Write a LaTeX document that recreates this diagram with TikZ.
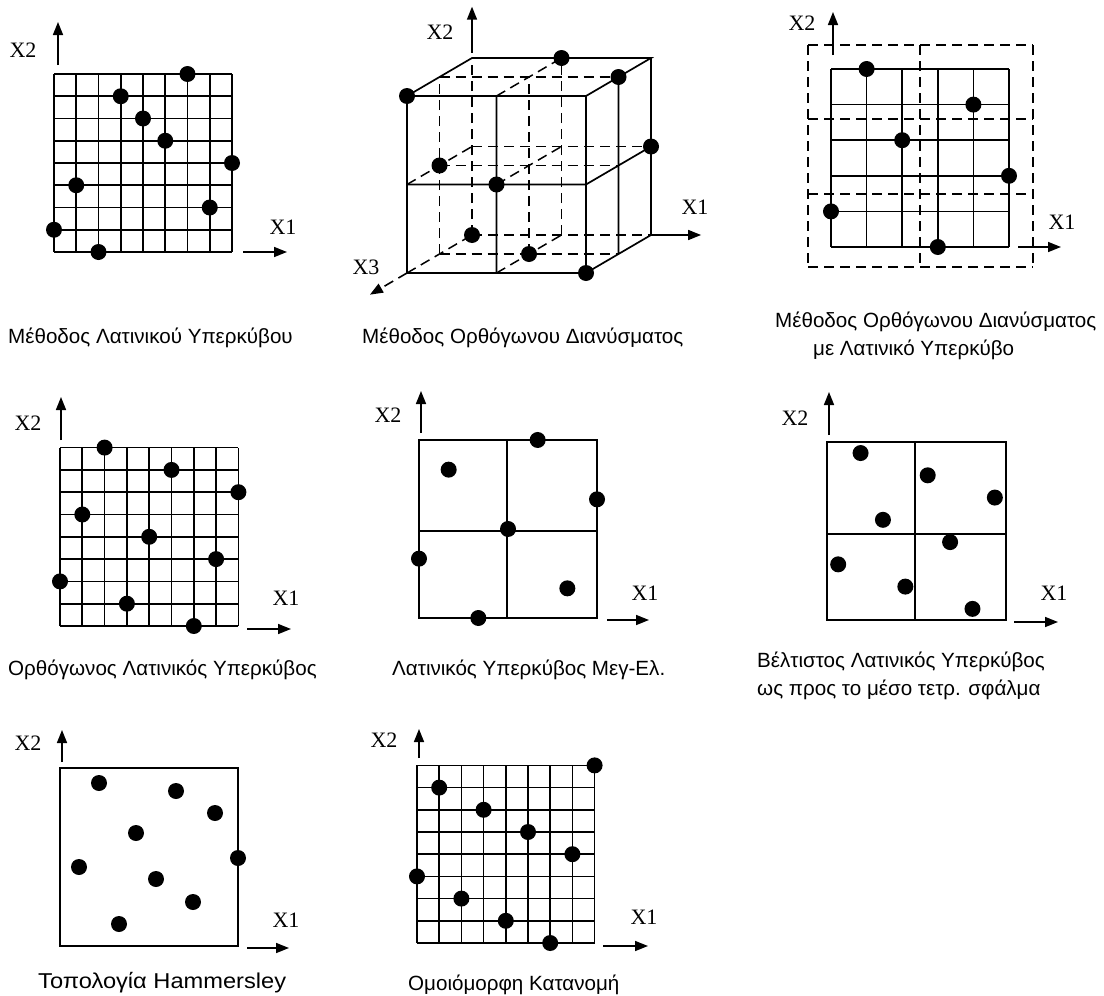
\documentclass[tikz,border=0pt]{standalone}
\usepackage{fontspec}
\usepackage{graphicx}
\setmainfont{Liberation Serif}
\newfontfamily\grfont{Liberation Sans}
\usetikzlibrary{arrows.meta}

\tikzset{
  cell/.style={line width=1.7pt},
  hidden/.style={line width=1.5pt,dash pattern=on 10pt off 6pt},
  axis/.style={line width=1.6pt,-{Triangle[length=13pt,width=10pt]}},
  axlabel/.style={font=\fontsize{22}{22}\selectfont,inner sep=0pt},
  caption/.style={font=\grfont\fontsize{20.6}{24}\selectfont,anchor=base west,inner sep=0pt}
}

\begin{document}
\begin{tikzpicture}[x=1pt,y=-1pt]
  \useasboundingbox (0,0) rectangle (1104,996);

  % Latin hypercube
  \begin{scope}[shift={(54pt,-252pt)},x=22.25pt,y=22.25pt]
    \foreach \k in {0,...,8}
      \draw[cell] (\k,0) -- (\k,8) (0,\k) -- (8,\k);
    \foreach \i/\j in {6/8,3/7,4/6,5/5,8/4,1/3,7/2,0/1,2/0}
      \fill (\i,\j) circle[radius=8pt];
  \end{scope}
  \draw[axis] (58,65) -- (58,22);
  \draw[axis] (243,252) -- (287,252);
  \node[axlabel] (lhsX2) at (23,50) {X2};
  \node[axlabel] (lhsX1) at (283,227) {X1};
  \node[caption] (lhsCap) at (8,343) {Μέθοδος Λατινικού Υπερκύβου};

  % orthogonal array cube
  \begin{scope}[shift={(407pt,-273pt)},x={(89.5pt,0pt)},y={(0pt,88.5pt)},z={(32.5pt,19pt)}]
    \foreach \b/\c in {0/1,1/1,2/1,0/2,1/2}
      \draw[hidden] (0,\b,\c) -- (2,\b,\c);
    \foreach \a/\c in {0/1,1/1,0/2,1/2}
      \draw[hidden] (\a,0,\c) -- (\a,2,\c);
    \foreach \a/\b in {0/0,1/0,0/1,1/1,1/2}
      \draw[hidden] (\a,\b,0) -- (\a,\b,2);
    \draw[cell] (0,0,0) -- (2,0,0) -- (2,2,0) -- (0,2,0) -- cycle
      (0,1,0) -- (2,1,0) (1,0,0) -- (1,2,0)
      (0,2,0) -- (0,2,2) -- (2,2,2) -- (2,2,0)
      (2,0,0) -- (2,0,2) -- (2,2,2)
      (2,1,0) -- (2,1,2) (2,0,1) -- (2,2,1);
    \foreach \a/\b/\c in {0/2/0,1/2/2,2/2/1,2/1/2,0/1/1,1/1/0,0/0/2,1/0/1,2/0/0}
      \fill (\a,\b,\c) circle[radius=8pt];
    \draw[axis] (0,2.06,2) -- (0,2.58,2);
    \draw[axis] (2,0,2) -- (2.56,0,2);
    \draw[axis,dash pattern=on 10pt off 6pt] (0,0,0) -- (0,0,-1.14);
  \end{scope}
  \node[axlabel] (oaX2) at (440,32) {X2};
  \node[axlabel] (oaX1) at (695,207) {X1};
  \node[axlabel] (oaX3) at (366,267) {X3};
  \node[caption] (oaCap) at (362,343) {Μέθοδος Ορθόγωνου Διανύσματος};

  % orthogonal array with Latin hypercube
  \foreach \u in {808,920,1033}
    \draw[hidden] (\u,45) -- (\u,267);
  \foreach \v in {45,119,194,267}
    \draw[hidden] (808,\v) -- (1033,\v);
  \begin{scope}[shift={(831pt,-247pt)},x=35.6pt,y=35.6pt]
    \foreach \k in {0,...,5}
      \draw[cell] (\k,0) -- (\k,5) (0,\k) -- (5,\k);
    \foreach \i/\j in {1/5,4/4,2/3,5/2,0/1,3/0}
      \fill (\i,\j) circle[radius=8pt];
  \end{scope}
  \draw[axis] (833,55) -- (833,12);
  \draw[axis] (1018,247) -- (1061,247);
  \node[axlabel] (oalX2) at (802,23) {X2};
  \node[axlabel] (oalX1) at (1062,222) {X1};
  \node[caption] (oalCapA) at (775,327) {Μέθοδος Ορθόγωνου Διανύσματος};
  \node[caption] (oalCapB) at (813,355) {με Λατινικό Υπερκύβο};

  % orthogonal Latin hypercube
  \begin{scope}[shift={(60pt,-626pt)},x=22.3pt,y=22.3pt]
    \foreach \k in {0,...,8}
      \draw[cell] (\k,0) -- (\k,8) (0,\k) -- (8,\k);
    \foreach \i/\j in {2/8,5/7,8/6,1/5,4/4,7/3,0/2,3/1,6/0}
      \fill (\i,\j) circle[radius=8pt];
  \end{scope}
  \draw[axis] (61,440) -- (61,397);
  \draw[axis] (247,629) -- (291,629);
  \node[axlabel] (olhX2) at (28,423) {X2};
  \node[axlabel] (olhX1) at (286,598) {X1};
  \node[caption] (olhCap) at (8,675) {Ορθόγωνος Λατινικός Υπερκύβος};

  % maximin Latin hypercube
  \draw[cell] (419,440) rectangle (597,618) (507,440) -- (507,618) (419,531) -- (597,531);
  \begin{scope}[shift={(419pt,-618pt)},x=29.67pt,y=29.67pt]
    \foreach \i/\j in {4/6,1/5,6/4,3/3,0/2,5/1,2/0}
      \fill (\i,\j) circle[radius=8pt];
  \end{scope}
  \draw[axis] (421,433) -- (421,391);
  \draw[axis] (607,620) -- (649,620);
  \node[axlabel] (mmX2) at (388,415) {X2};
  \node[axlabel] (mmX1) at (645,593) {X1};
  \node[caption] (mmCap) at (392,675) {Λατινικός Υπερκύβος Μεγ-Ελ.};

  % optimal Latin hypercube
  \draw[cell] (827,442) rectangle (1006,620) (915,442) -- (915,620) (827,534) -- (1006,534);
  \begin{scope}[shift={(827pt,-620pt)},x=11.19pt,y=11.13pt]
    \foreach \i/\j in {3/15,9/13,15/11,5/9,11/7,1/5,7/3,13/1}
      \fill (\i,\j) circle[radius=8pt];
  \end{scope}
  \draw[axis] (829,435) -- (829,392);
  \draw[axis] (1014,622) -- (1058,622);
  \node[axlabel] (optX2) at (795,418) {X2};
  \node[axlabel] (optX1) at (1054,593) {X1};
  \node[caption] (optCapA) at (757,667) {Βέλτιστος Λατινικός Υπερκύβος};
  \node[caption] (optCapB) at (757,695) {ως προς το μέσο τετρ. σφάλμα};

  % Hammersley
  \draw[cell] (60,768) rectangle (238,946);
  \foreach \u/\v in {99/783,176/791,215/813,136/833,238/858,79/867,156/879,193/902,119/924}
    \fill (\u,\v) circle[radius=8pt];
  \draw[axis] (62,762) -- (62,730);
  \draw[axis] (247,948) -- (289,948);
  \node[axlabel] (hamX2) at (28,743) {X2};
  \node[axlabel] (hamX1) at (286,920) {X1};
  \node[caption,font=\grfont\fontsize{21.5}{24}\selectfont] (hamCap) at (38,988) {\scalebox{1.1}[1]{Τοπολογία Hammersley}};

  % uniform
  \begin{scope}[shift={(417pt,-943pt)},x=22.2pt,y=22.2pt]
    \foreach \k in {0,...,8}
      \draw[cell] (\k,0) -- (\k,8) (0,\k) -- (8,\k);
    \foreach \i/\j in {8/8,1/7,3/6,5/5,7/4,0/3,2/2,4/1,6/0}
      \fill (\i,\j) circle[radius=8pt];
  \end{scope}
  \draw[axis] (419,758) -- (419,729);
  \draw[axis] (603,946) -- (648,946);
  \node[axlabel] (uniX2) at (384,740) {X2};
  \node[axlabel] (uniX1) at (644,917) {X1};
  \node[caption] (uniCap) at (408,990) {Ομοιόμορφη Κατανομή};
\end{tikzpicture}
\end{document}
